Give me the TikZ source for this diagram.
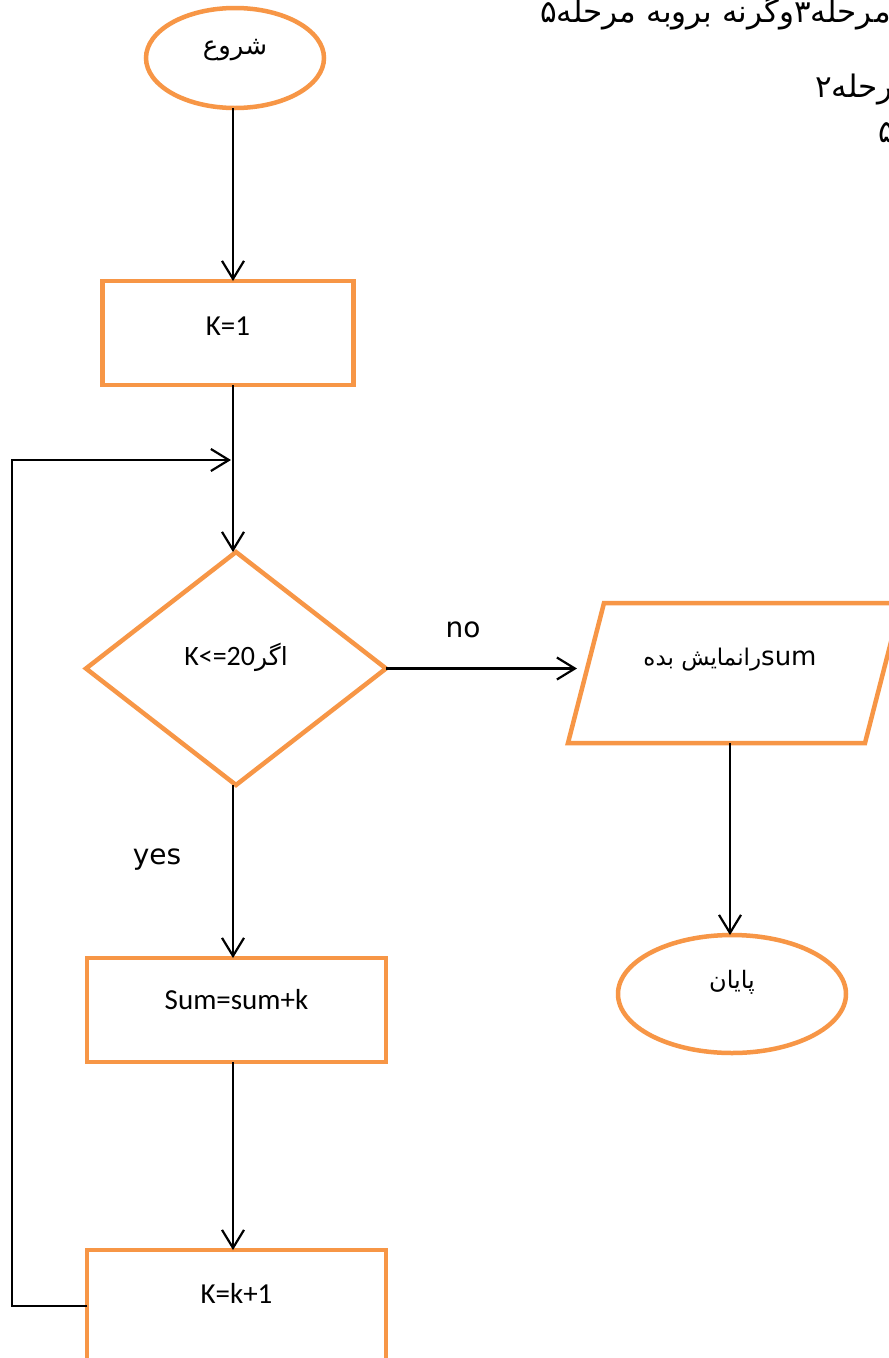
\documentclass[tikz,border=0pt]{standalone}
\usepackage{fontspec}
\usetikzlibrary{shapes.geometric,arrows.meta}
\TeXXeTstate=1
\newfontfamily\fa[Script=Arabic]{DejaVu Sans}
\newfontfamily\dv{DejaVu Sans}
\newfontfamily\cb{Carlito}
\definecolor{ora}{HTML}{F79646}
\newcommand{\fs}[1]{\fontsize{#1}{#1}\selectfont}
\tikzset{
  shapeline/.style={draw=ora, line width=4.5pt, inner sep=0pt, outer sep=0pt},
  boxshape/.style={shapeline, rectangle},
  ellshape/.style={shapeline, ellipse},
  conn/.style={draw=black, line width=2.2pt, -{Straight Barb[length=18pt,width=22pt]}},
  lbl/.style={anchor=center, inner sep=0pt, font=\cb\fs{29}},
  falbl/.style={anchor=center, inner sep=0pt, font=\fa\fs{23}},
  sidetext/.style={inner sep=0pt, font=\dv\fs{28}},
  toptext/.style={inner sep=0pt, font=\fa\fs{31}}
}
\begin{document}
\begin{tikzpicture}[x=1pt,y=-1pt]
\useasboundingbox (0,0) rectangle (889,1358);
\clip (0,0) rectangle (889,1358);
\fill[white] (0,0) rectangle (889,1358);

\coordinate (spine) at (233,0);
\coordinate (leftx) at (12,0);
\coordinate (join) at (231,460);

% top text (cut by the page edge)
\node[toptext, anchor=base west] (t1) at (540,22) {\beginR مرحله۳وگرنه بروبه مرحله۵\endR};
\node[toptext, anchor=base west] (t2) at (815,97) {\beginR مرحله۲\endR};
\node[toptext, anchor=base west] (t3) at (878,142) {\beginR مرحله۵\endR};

% shapes
\node[ellshape, minimum width=178pt, minimum height=100pt,
      label={[falbl, font=\fa\fs{26}, yshift=-42pt]north:{\beginR شروع\endR}}] (start) at (235,58) {};
\node[boxshape, minimum width=251pt, minimum height=104pt,
      label={[lbl, yshift=-45pt]north:{K=1}}] (k1) at (228,333) {};
\node[shapeline, diamond, minimum width=300pt, minimum height=233pt,
      label={[falbl, font=\fa\fs{25}, yshift=11.5pt]center:{\beginR اگر\beginL{\cb\fs{28}K<=20}\endL\endR}}] (dia) at (236,668.5) {};
\draw[shapeline] (568,743) -- (604,603) -- (901,603) -- (865,743) -- cycle;
\node[rectangle, inner sep=0pt, outer sep=0pt, minimum width=306pt, minimum height=140pt,
      label={[falbl, yshift=13pt]center:{\beginR\beginL{\dv\fs{26}sum}\endL رانمایش بده\endR}}] (out) at (730,673) {};
\node[ellshape, minimum width=228pt, minimum height=118pt,
      label={[falbl, font=\fa\fs{24}, yshift=12pt]center:{\beginR پایان\endR}}] (end) at (732,994) {};
\node[boxshape, minimum width=299pt, minimum height=104pt,
      label={[lbl, yshift=-42pt]north:{Sum=sum+k}}] (sum) at (236.5,1010) {};
\node[boxshape, minimum width=299pt, minimum height=112pt,
      label={[lbl, yshift=-43pt]north:{K=k+1}}] (k2) at (236.5,1306) {};

% labels on connectors
\node[sidetext] (no) at (463,630) {no};
\node[sidetext] (yes) at (157,860) {yes};

% connectors
\draw[conn] (start.south -| spine) -- (k1.north -| spine);
\draw[conn] (k1.south -| spine) -- (dia.north -| spine);
\draw[conn] (k2.west) -- (k2.west -| leftx) -- (leftx |- join) -- (join);
\draw[conn] (dia.east) -- (dia.east -| out.west);
\draw[conn] (out.south) -- (out.south |- end.north);
\draw[conn] (dia.south -| spine) -- (sum.north -| spine);
\draw[conn] (sum.south -| spine) -- (k2.north -| spine);
\end{tikzpicture}
\end{document}
